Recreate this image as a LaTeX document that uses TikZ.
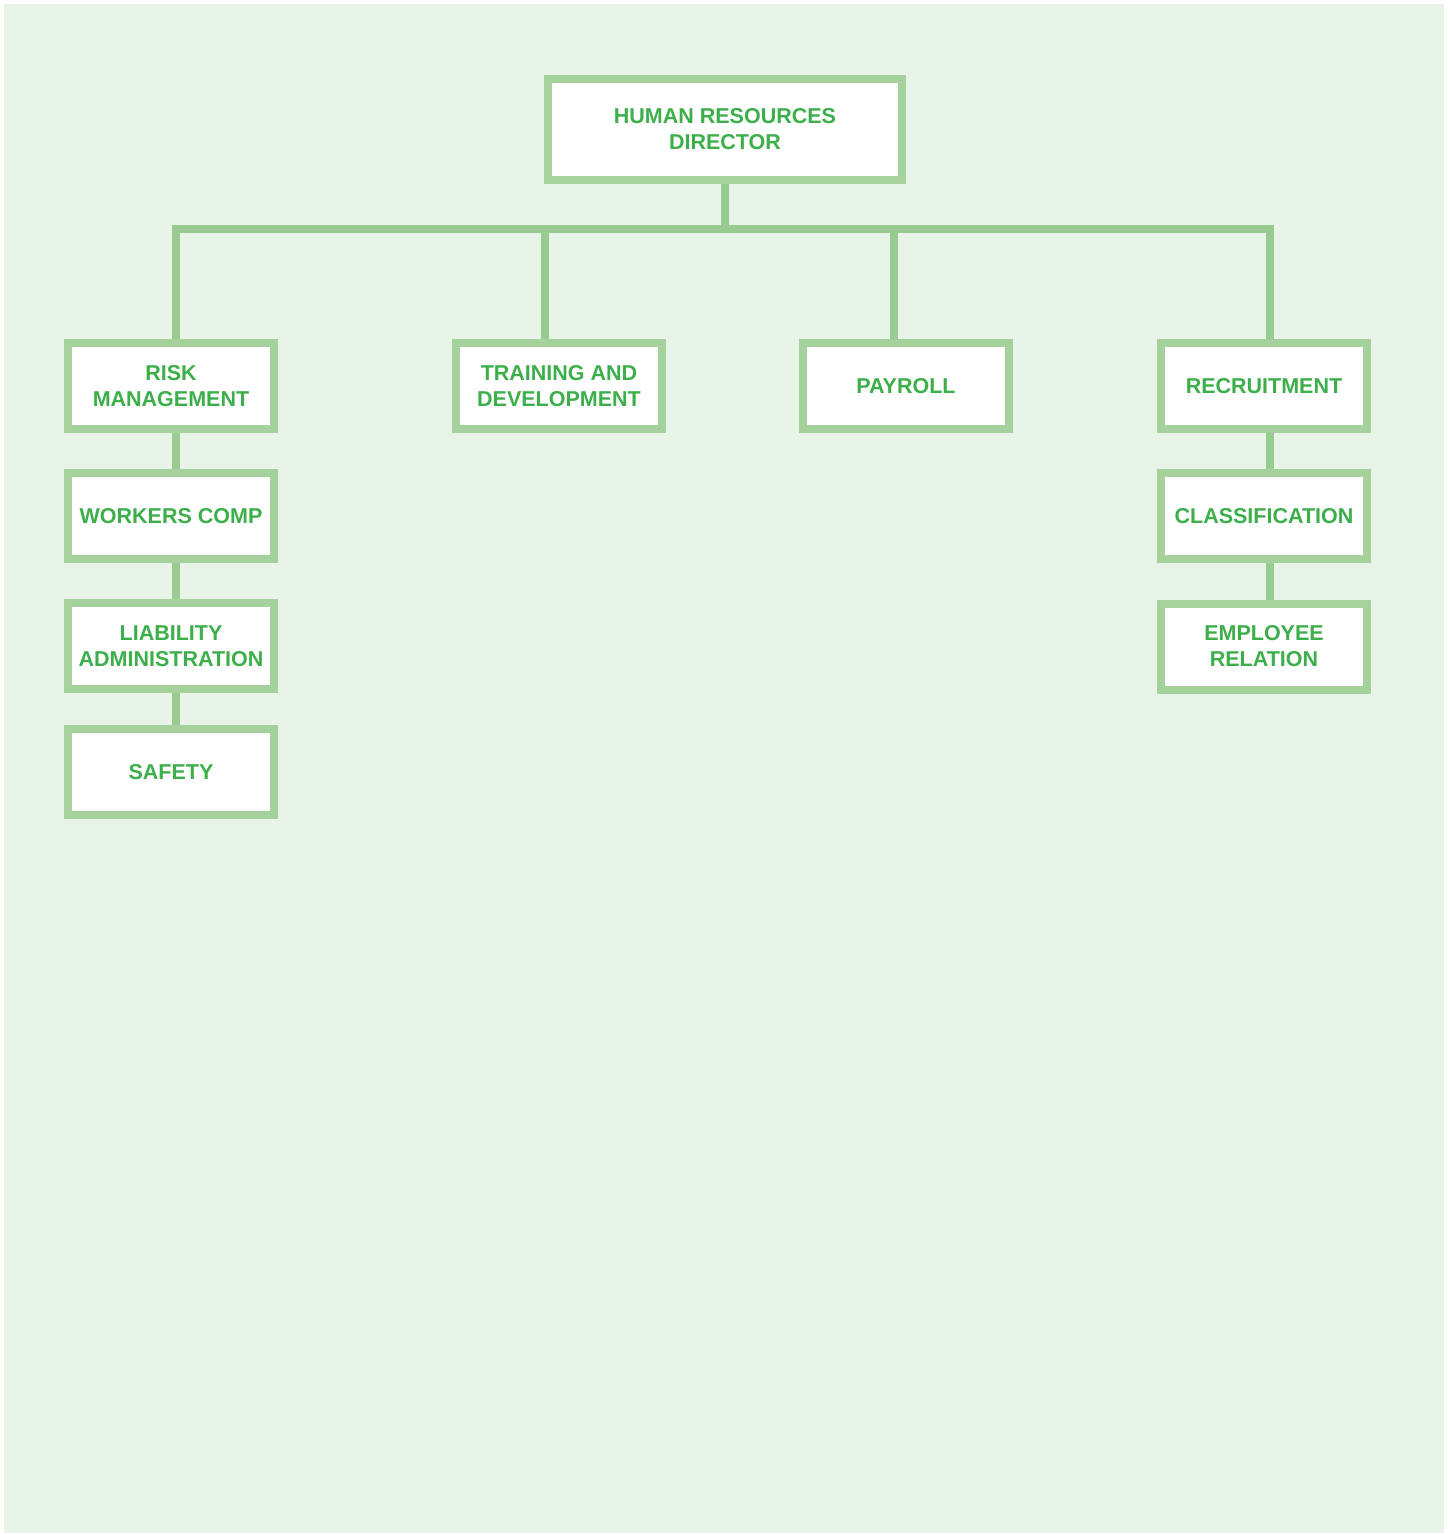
\documentclass[tikz,border=0pt]{standalone}
\usepackage{fontspec}
\setmainfont{Liberation Sans}
\usepackage{tikz}
\definecolor{bgcol}{HTML}{E9F4E8}
\definecolor{boxline}{HTML}{A4D19C}
\definecolor{linkcol}{HTML}{98CB8F}
\definecolor{txtcol}{HTML}{3CAF4B}
\begin{document}
\begin{tikzpicture}[line cap=butt,line join=miter,x=1pt,y=-1pt,
    unit/.style={draw=boxline,line width=8pt,fill=white,text=txtcol,align=center,
      font=\fontsize{21.5}{26}\selectfont\bfseries,minimum width=206pt,minimum height=86pt,inner sep=0pt},
    link/.style={draw=linkcol,line width=8pt}]
      \useasboundingbox (0,0) rectangle (1450,1534);
      \fill[bgcol] (4,4) rectangle (1444,1533);
      % boxes
      \node[unit,minimum width=354pt,minimum height=101pt] (hrd) at (725,129.5) {HUMAN RESOURCES\\DIRECTOR};
      \node[unit] (risk) at (171,386) {RISK\\MANAGEMENT};
      \node[unit] (train) at (559,386) {TRAINING AND\\DEVELOPMENT};
      \node[unit] (pay) at (906,386) {PAYROLL};
      \node[unit] (rec) at (1264,386) {RECRUITMENT};
      \node[unit] (work) at (171,516) {WORKERS COMP};
      \node[unit] (liab) at (171,646) {LIABILITY\\ADMINISTRATION};
      \node[unit] (safe) at (171,772) {SAFETY};
      \node[unit] (class) at (1264,516) {CLASSIFICATION};
      \node[unit] (emp) at (1264,646.5) {EMPLOYEE\\RELATION};
      % bus
      \coordinate (busL) at (176,229);
      \coordinate (busR) at (1270,229);
      \coordinate (dropT) at (545,229);
      \coordinate (dropP) at (894,229);
      \draw[link] (busL |- risk.north) -- (busL) -- (busR) -- (busR |- rec.north);
      \draw[link] (hrd.south) -- (hrd.south |- busL);
      \draw[link] (dropT) -- (dropT |- train.north);
      \draw[link] (dropP) -- (dropP |- pay.north);
      \foreach \a/\b in {risk/work,work/liab,liab/safe}
      \draw[link] (\a.south -| busL) -- (\b.north -| busL);
      \foreach \a/\b in {rec/class,class/emp}
      \draw[link] (\a.south -| busR) -- (\b.north -| busR);
    \end{tikzpicture}
\end{document}
